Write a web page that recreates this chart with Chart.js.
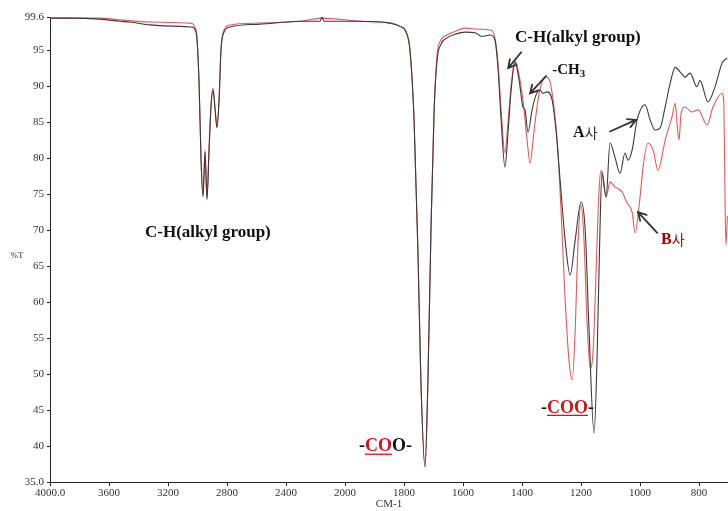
<!DOCTYPE html>
<html><head><meta charset="utf-8">
<script src="https://cdn.jsdelivr.net/npm/chart.js@4/dist/chart.umd.min.js"></script>
<style>html,body{margin:0;padding:0;background:#fff;overflow:hidden}#wrap{width:728px;height:511px;position:relative}</style>
</head><body><div id="wrap"><canvas id="c"></canvas></div>
<script>
// ---- data (wavenumber cm-1, %T) ----
const seriesNames = ['A사', 'B사'];
const wavenumbersA = [4000,3864,3661,3525,3458,3322,3119,3037,3010,2990,2976,2963,2949,2936,2922,2908,2895,2881,2868,2854,2841,2820,2780,2576,2305,2169,2156,2142,1949,1847,1814,1793,1780,1766,1753,1743,1729,1719,1708,1698,1688,1675,1654,1627,1593,1559,1536,1508,1492,1481,1471,1458,1447,1437,1424,1410,1397,1390,1380,1366,1353,1339,1329,1315,1298,1285,1271,1254,1237,1220,1200,1186,1173,1156,1146,1136,1129,1115,1102,1085,1068,1051,1041,1027,1010,983,966,949,932,915,898,881,864,847,831,807,797,770,746,722,705];
const transmittanceA = [99.45,99.45,99.3,99.0,98.9,98.5,98.3,98.2,97.5,90.8,79.7,74.6,80.8,74.2,81.1,87.4,89.45,86.7,84.2,88.05,95.0,97.5,98.2,98.6,99.0,99.0,99.6,99.0,99.0,98.75,98.3,97.5,95.0,85.3,67.2,49.2,37.1,49.2,71.4,86.7,93.6,95.8,96.7,97.2,97.5,97.4,96.9,97.1,96.4,92.2,85.3,78.75,83.9,89.45,93.3,90.8,87.1,86.7,83.6,86.7,88.75,89.45,89.0,89.2,88.05,83.9,76.9,68.6,63.75,68.6,73.9,70.0,56.1,41.8,51.9,70.0,78.05,74.6,82.1,80.1,77.9,80.7,79.7,81.1,85.3,87.4,85.3,83.9,84.2,87.1,90.4,92.6,91.95,91.25,91.8,89.9,90.8,87.8,89.9,93.2,93.9];
const wavenumbersB = [4000,3661,3525,3322,3051,3010,2990,2976,2963,2949,2936,2922,2908,2895,2881,2868,2854,2841,2820,2780,2576,2305,2156,1949,1847,1814,1793,1780,1766,1753,1743,1729,1719,1708,1698,1688,1675,1654,1627,1593,1542,1508,1492,1481,1471,1458,1447,1437,1424,1410,1397,1383,1373,1359,1346,1332,1319,1305,1295,1281,1268,1254,1241,1230,1220,1210,1200,1190,1180,1169,1159,1149,1139,1132,1115,1102,1085,1061,1044,1027,1017,1000,990,973,956,939,915,892,881,875,868,861,847,824,803,773,753,722,716,712,709,704];
const transmittanceB = [99.45,99.45,99.2,98.9,98.75,97.8,90.8,79.7,74.9,81.1,74.45,81.1,87.4,89.7,86.95,84.4,88.05,95.0,97.8,98.5,98.75,99.0,99.45,99.0,98.75,98.3,97.5,95.0,85.3,67.2,49.2,37.1,49.2,71.4,86.7,94.3,96.4,97.1,97.6,98.05,97.9,97.8,96.7,92.9,86.7,80.7,85.3,90.1,93.6,91.5,88.05,82.5,79.3,83.9,88.05,90.6,91.25,90.6,88.05,82.5,72.8,60.3,51.9,49.2,56.1,68.6,73.5,68.6,57.5,50.8,53.3,64.4,75.55,78.3,74.6,76.7,76.0,75.3,73.75,72.5,69.6,74.6,78.75,82.1,81.1,78.3,82.5,85.7,87.6,84.9,82.5,86.25,87.1,86.4,86.7,84.6,87.1,89.0,87.5,74.0,67.9,72.0];
const xTickValues = [4000,3600,3200,2800,2400,2000,1800,1600,1400,1200,1000,800];
const xTickLabels = ['4000.0','3600','3200','2800','2400','2000','1800','1600','1400','1200','1000','800'];
const yTickValues = [35,40,45,50,55,60,65,70,75,80,85,90,95,99.6];
const yTickLabels = ['35.0','40','45','50','55','60','65','70','75','80','85','90','95','99.6'];

// ---- IR axis: 2x expansion below 2000 cm-1 ----
const X_START = 4000, X_BREAK = 2000, X_EXPAND = 2, X_END = 702;
function irUnits(v){ return v >= X_BREAK ? X_START - v : (X_START - X_BREAK) + X_EXPAND * (X_BREAK - v); }
class IRScale extends Chart.LinearScale {
  getPixelForValue(v){ return this.getPixelForDecimal(irUnits(v) / irUnits(this.min)); }
  getValueForPixel(p){
    const u = this.getDecimalForPixel(p) * irUnits(this.min);
    return u <= X_START - X_BREAK ? X_START - u : X_BREAK - (u - (X_START - X_BREAK)) / X_EXPAND;
  }
}
IRScale.id = 'irscale';
IRScale.defaults = Chart.LinearScale.defaults;
Chart.register(IRScale);

const SERIF = '"Liberation Serif", "Times New Roman", serif';
const KR = '"Noto Sans CJK KR", sans-serif';
const RED = '#d01414';

const notes = [
  {x:3356, y:69.6, runs:[{t:'C-H(alkyl group)', f:'bold 17px '+SERIF, c:'#111'}]},
  {x:1424, y:96.7, runs:[{t:'C-H(alkyl group)', f:'bold 17px '+SERIF, c:'#111'}]},
  {x:1298, y:92.2, runs:[{t:'-CH', f:'bold 15px '+SERIF, c:'#111'},{t:'3', f:'bold 11px '+SERIF, c:'#111', dy:4}]},
  {x:1227, y:83.5, runs:[{t:'A', f:'bold 16px '+SERIF, c:'#111'},{t:'사', f:'14px '+KR, c:'#333'}]},
  {x:929, y:68.7, runs:[{t:'B', f:'bold 16px '+SERIF, c:'#a00000'},{t:'사', f:'14px '+KR, c:'#a01010'}]},
  {x:1336, y:45.3, runs:[{t:'-', f:'bold 18px '+SERIF, c:'#111'},{t:'COO', f:'bold 18px '+SERIF, c:RED, ul:true},{t:'-', f:'bold 18px '+SERIF, c:'#111'}]},
  {x:1953, y:39.9, runs:[{t:'-', f:'bold 18px '+SERIF, c:'#111'},{t:'CO', f:'bold 18px '+SERIF, c:RED, ul:true},{t:'O-', f:'bold 18px '+SERIF, c:'#111'}]}
];
const arrows = [
  {x1:1403, y1:94.7, x2:1447, y2:92.5},
  {x1:1319, y1:91.4, x2:1373, y2:89.0},
  {x1:1102, y1:83.7, x2:1014, y2:85.3},
  {x1:942, y1:69.6, x2:1007, y2:72.5}
];

const annotPlugin = {
  id: 'annot',
  afterDatasetsDraw(chart){
    const ctx = chart.ctx, xs = chart.scales.x, ys = chart.scales.y;
    ctx.save();
    ctx.textBaseline = 'middle'; ctx.textAlign = 'left';
    for (const n of notes){
      let cx = xs.getPixelForValue(n.x); const cy = ys.getPixelForValue(n.y);
      for (const r of n.runs){
        ctx.font = r.f; ctx.fillStyle = r.c;
        ctx.fillText(r.t, cx, cy + (r.dy || 0));
        const w = ctx.measureText(r.t).width;
        if (r.ul){ ctx.strokeStyle = r.c; ctx.lineWidth = 1.3; ctx.beginPath(); ctx.moveTo(cx, cy + 7.5); ctx.lineTo(cx + w, cy + 7.5); ctx.stroke(); }
        cx += w;
      }
    }
    ctx.strokeStyle = '#333'; ctx.lineWidth = 1.8; ctx.lineCap = 'round';
    for (const a of arrows){
      const x1 = xs.getPixelForValue(a.x1), y1 = ys.getPixelForValue(a.y1);
      const x2 = xs.getPixelForValue(a.x2), y2 = ys.getPixelForValue(a.y2);
      const ang = Math.atan2(y2 - y1, x2 - x1), L = 9, s = 0.5;
      ctx.beginPath(); ctx.moveTo(x1, y1); ctx.lineTo(x2, y2);
      ctx.moveTo(x2 - L*Math.cos(ang - s), y2 - L*Math.sin(ang - s)); ctx.lineTo(x2, y2);
      ctx.lineTo(x2 - L*Math.cos(ang + s), y2 - L*Math.sin(ang + s));
      ctx.stroke();
    }
    // y axis title (horizontal)
    ctx.font = '9px ' + SERIF; ctx.fillStyle = '#333'; ctx.textAlign = 'center';
    ctx.fillText('%T', 17, ys.getPixelForValue(66.5));
    ctx.restore();
  }
};

function pts(xs, ys){ return xs.map((x, i) => ({x, y: ys[i]})); }

new Chart(document.getElementById('c'), {
  type: 'line',
  data: {
    datasets: [
      {label: seriesNames[0], data: pts(wavenumbersA, transmittanceA), borderColor: '#3a3a3a', borderWidth: 1.1, pointRadius: 0, cubicInterpolationMode: 'monotone', fill: false},
      {label: seriesNames[1], data: pts(wavenumbersB, transmittanceB), borderColor: '#e25c5c', borderWidth: 1.1, pointRadius: 0, cubicInterpolationMode: 'monotone', fill: false}
    ]
  },
  options: {
    responsive: true, maintainAspectRatio: false, animation: false, devicePixelRatio: 1,
    layout: {padding: {top: 17, left: 0, right: 0, bottom: 0}},
    plugins: {legend: {display: false}, tooltip: {enabled: false}, title: {display: false}},
    scales: {
      x: {
        type: 'irscale', min: X_END, max: X_START,
        afterBuildTicks: s => { s.ticks = xTickValues.map(v => ({value: v})); },
        afterFit: s => { s.height = 29; },
        ticks: {autoSkip: false, maxRotation: 0, minRotation: 0, padding: 1, color: '#333',
          font: {family: SERIF, size: 11}, callback: (v, i) => xTickLabels[i]},
        grid: {display: true, drawOnChartArea: false, drawTicks: true, tickLength: 4, color: '#222'},
        border: {display: true, color: '#222', width: 1},
        title: {display: true, text: 'CM-1', color: '#333', font: {family: SERIF, size: 11}, padding: {top: 0, bottom: 0}}
      },
      y: {
        type: 'linear', min: 35, max: 99.6,
        afterBuildTicks: s => { s.ticks = yTickValues.map(v => ({value: v})); },
        afterFit: s => { s.width = 50; },
        ticks: {autoSkip: false, padding: 3, color: '#333', font: {family: SERIF, size: 11},
          callback: (v, i) => yTickLabels[i]},
        grid: {display: true, drawOnChartArea: false, drawTicks: true, tickLength: 3, color: '#222'},
        border: {display: true, color: '#222', width: 1}
      }
    }
  },
  plugins: [annotPlugin]
});
</script></body></html>
